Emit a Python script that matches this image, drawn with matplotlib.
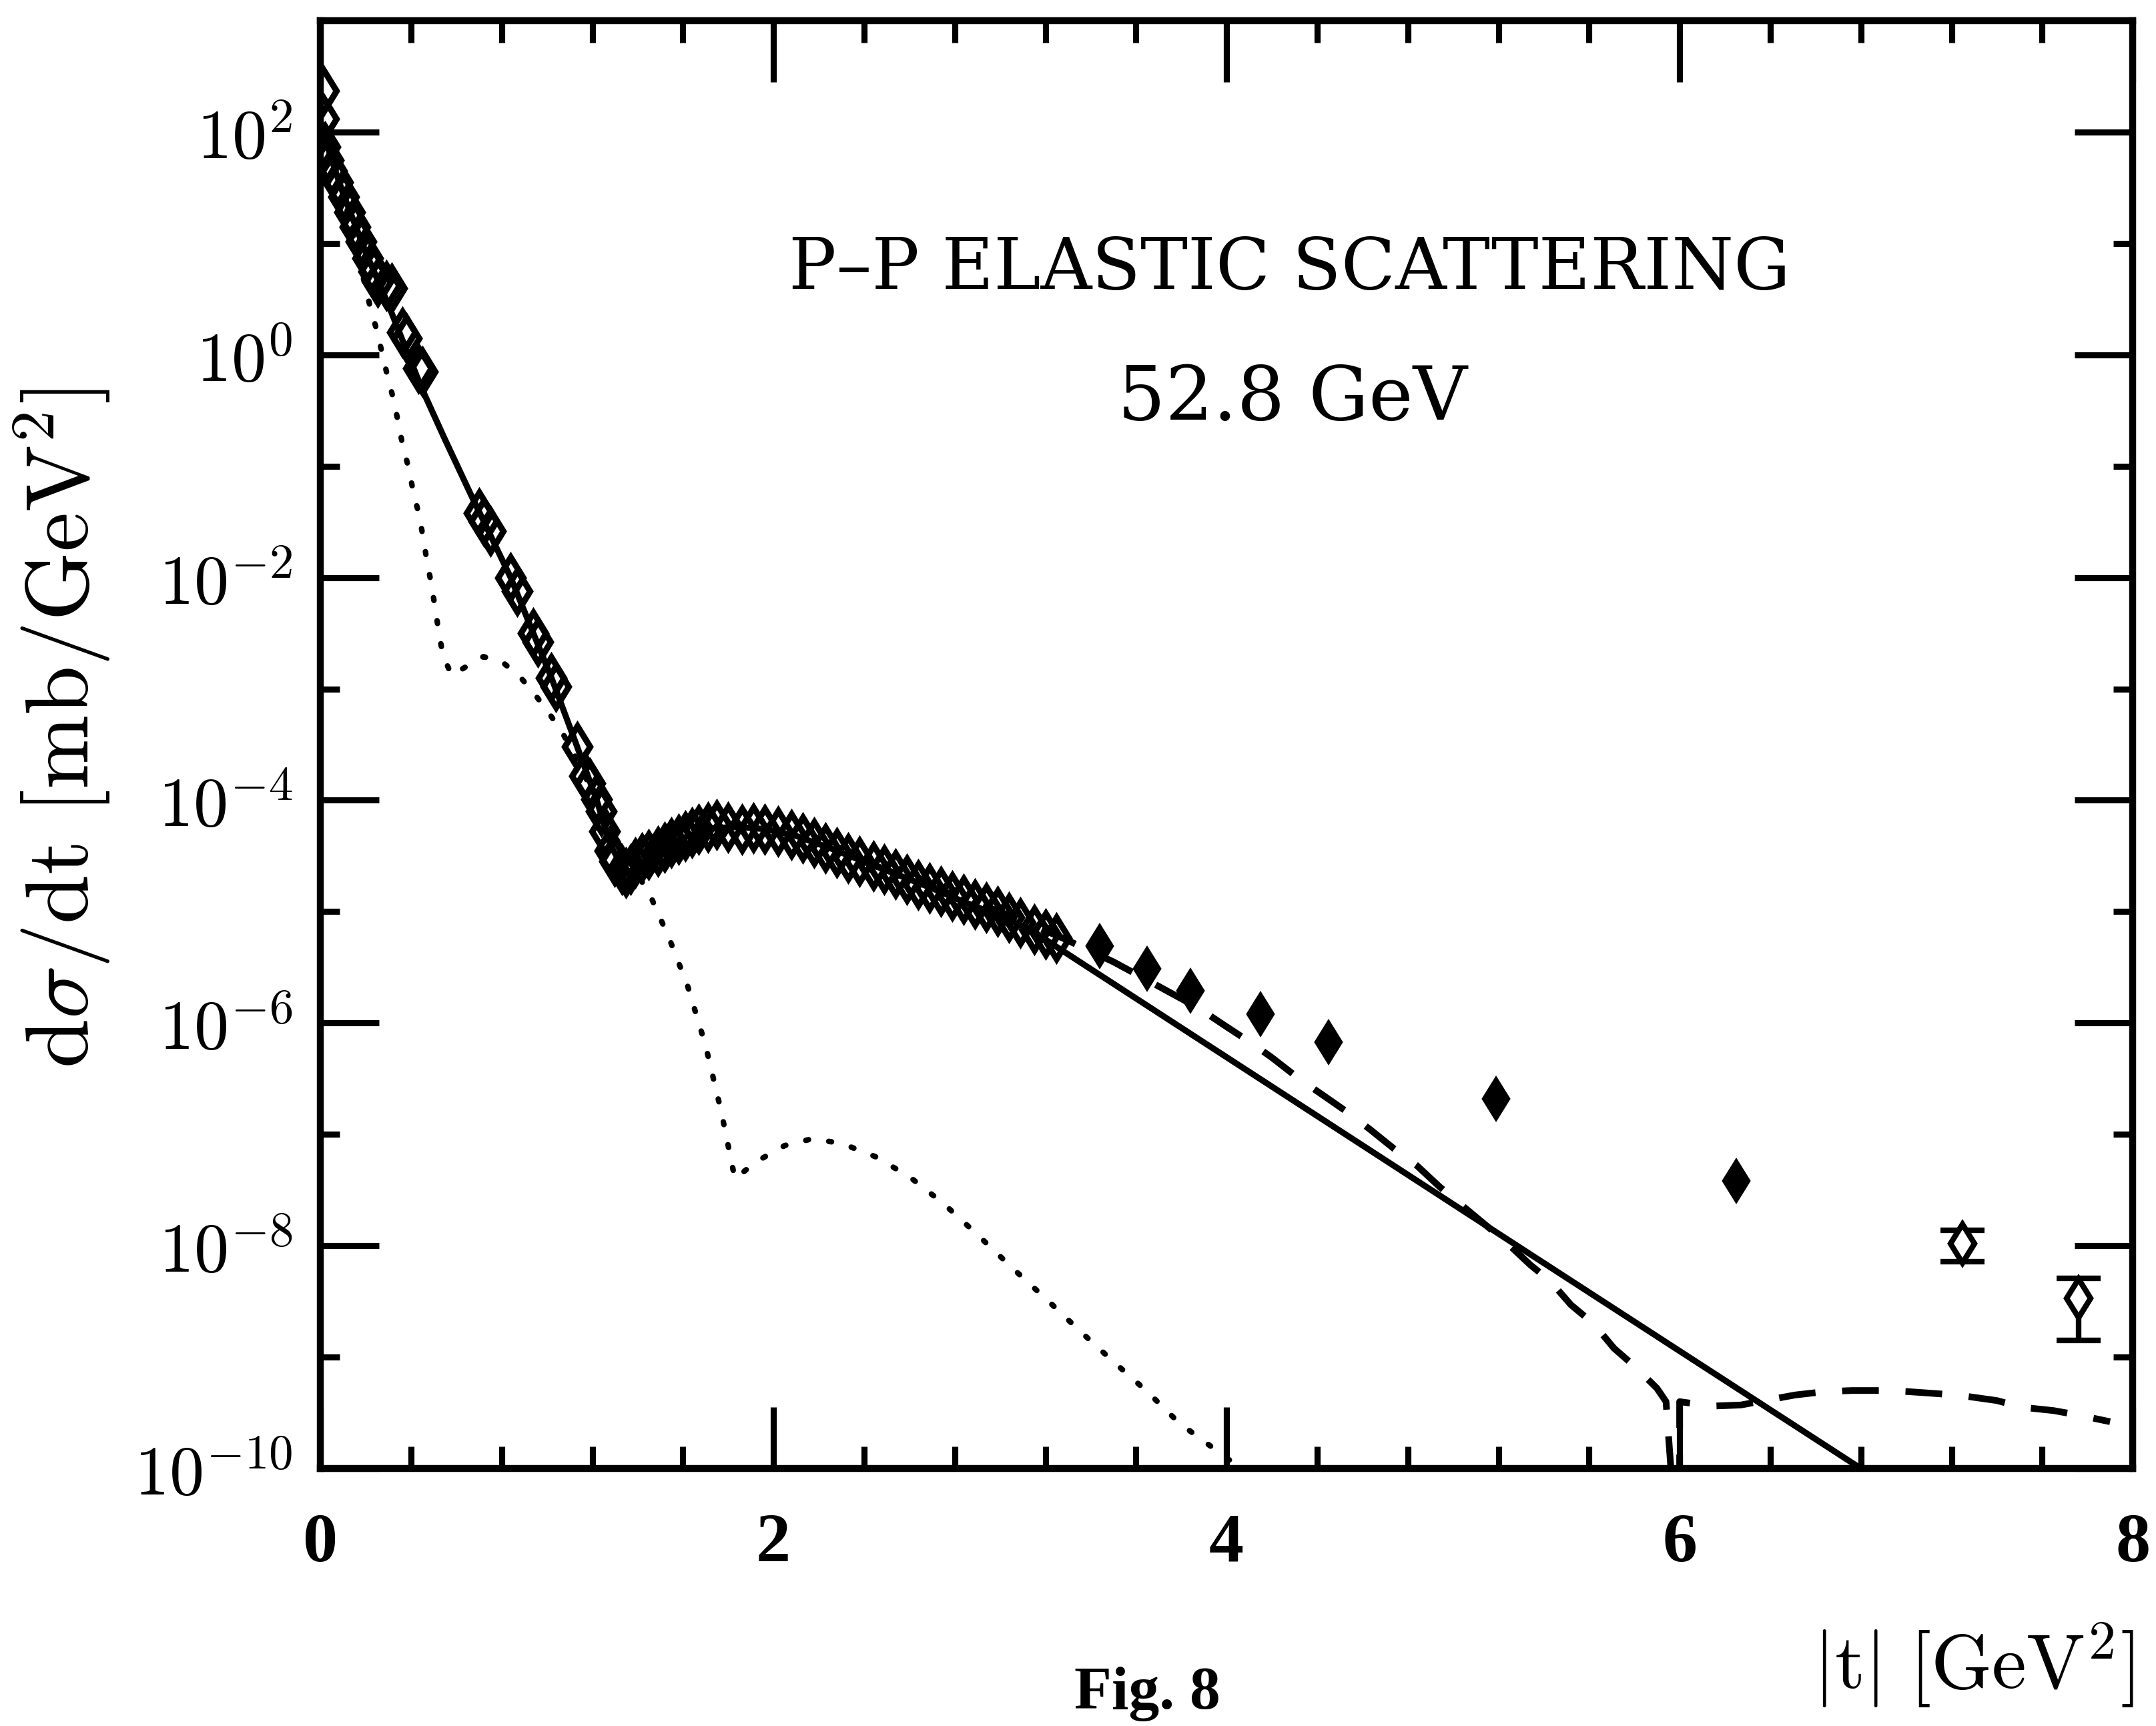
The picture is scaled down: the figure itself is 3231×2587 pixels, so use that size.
import numpy as np
import matplotlib.pyplot as plt
from matplotlib.ticker import FixedLocator, MultipleLocator, NullFormatter

plt.rcParams['mathtext.fontset'] = 'cm'
plt.rcParams['font.family'] = ['DejaVu Serif']

# measured cross sections: |t| [GeV^2] and log10(dsigma/dt [mb/GeV^2])
t_data = [0.015, 0.015, 0.02, 0.035, 0.05, 0.075, 0.103, 0.13, 0.153, 0.18, 0.209, 0.235,
          0.253, 0.29, 0.315, 0.362, 0.38, 0.434, 0.45,
          0.70, 0.72, 0.75, 0.84, 0.87, 0.94, 0.96, 1.02, 1.04, 1.134, 1.166, 1.19, 1.218,
          1.24, 1.253, 1.277, 1.30, 1.33, 1.35,
          1.37, 1.39, 1.42, 1.45, 1.49, 1.52, 1.55, 1.58, 1.61, 1.64, 1.67, 1.71, 1.75, 1.80,
          1.86, 1.91, 1.96, 2.02, 2.08, 2.13, 2.18, 2.23, 2.28, 2.33, 2.38, 2.44, 2.49, 2.54,
          2.59, 2.64, 2.69, 2.74, 2.79, 2.84, 2.89, 2.94, 2.99, 3.04, 3.09, 3.15, 3.20, 3.25]
logy_data = [2.37, 2.12, 1.87, 1.75, 1.65, 1.55, 1.42, 1.28, 1.15, 1.02, 0.87, 0.75,
             0.65, 0.62, 0.60, 0.20, 0.15, -0.12, -0.15,
             -1.42, -1.49, -1.58, -2.00, -2.12, -2.50, -2.58, -2.90, -2.98, -3.52, -3.78, -3.85, -3.99,
             -4.10, -4.28, -4.45, -4.55, -4.62, -4.65,
             -4.62, -4.56, -4.52, -4.49, -4.46, -4.42, -4.38, -4.35, -4.32, -4.29, -4.26, -4.24, -4.22, -4.24,
             -4.26, -4.25, -4.26, -4.28, -4.31, -4.34, -4.38, -4.43, -4.47, -4.52, -4.55, -4.59, -4.62, -4.66,
             -4.71, -4.76, -4.79, -4.82, -4.86, -4.89, -4.93, -4.96, -5.00, -5.05, -5.10, -5.16, -5.20, -5.24]

t_big = [3.44, 3.65, 3.84, 4.15, 4.45, 5.19, 6.25]
logy_big = [-5.31, -5.51, -5.71, -5.92, -6.17, -6.68, -7.42]

t_err = [7.25, 7.76]
logy_err = [-7.98, -8.47]
logy_err_lo = [-8.14, -8.85]
logy_err_hi = [-7.86, -8.29]

# model curves
t_solid = [0.0, 0.05, 0.10, 0.20, 0.30, 0.445, 0.55, 0.67, 0.72, 0.84, 0.94, 1.02, 1.13, 1.22,
           1.28, 1.35, 1.40, 1.50, 1.60, 1.72, 1.85, 1.97, 2.10, 2.25, 2.40, 2.55, 2.70, 2.85,
           3.00, 3.15, 3.23, 5.26, 6.80]
logy_solid = [2.1, 1.75, 1.45, 0.92, 0.45, -0.29, -0.76, -1.28, -1.49, -2.0, -2.5, -2.9, -3.5, -4.0,
              -4.4, -4.66, -4.60, -4.46, -4.34, -4.25, -4.24, -4.26, -4.32, -4.43, -4.55, -4.67, -4.79, -4.92,
              -5.04, -5.18, -5.29, -7.97, -10.0]

t_dash = [2.40, 2.70, 3.00, 3.28, 3.50, 3.70, 3.88, 3.99, 4.11, 4.20, 4.32, 4.42, 4.54, 4.63,
          4.74, 4.84, 4.94, 5.23, 5.34, 5.43, 5.52, 5.62, 5.71, 5.80, 5.90, 5.94, 5.99, 6.00, 6.00,
          6.14, 6.27, 6.51, 6.64, 6.76, 6.90, 7.01, 7.15, 7.26, 7.40, 7.51, 7.65, 7.76, 7.90]
logy_dash = [-4.55, -4.78, -5.00, -5.24, -5.45, -5.67, -5.87, -6.02, -6.18, -6.31, -6.50, -6.64, -6.81, -6.95,
             -7.13, -7.28, -7.47, -7.96, -8.17, -8.32, -8.53, -8.70, -8.92, -9.08, -9.28, -9.40, -10.8, -10.8,
             -9.40, -9.44, -9.43, -9.34, -9.31, -9.30, -9.30, -9.31, -9.33, -9.35, -9.39, -9.45, -9.48, -9.52,
             -9.58]

t_dot = [0.0, 0.05, 0.10, 0.15, 0.221, 0.249, 0.296, 0.324, 0.343, 0.362, 0.39, 0.41, 0.437, 0.455,
         0.471, 0.49, 0.507, 0.522, 0.541, 0.58, 0.643, 0.72, 0.81, 0.885, 0.947, 1.01, 1.07, 1.15,
         1.25, 1.35, 1.455, 1.496, 1.54, 1.575, 1.614, 1.70, 1.77, 1.83, 1.92, 2.05, 2.17, 2.30,
         2.45, 2.60, 2.75, 2.90, 3.06, 3.21, 3.35, 3.50, 3.65, 3.79, 3.87, 3.95, 4.03, 4.08]
logy_dot = [2.1, 1.75, 1.45, 1.03, 0.42, 0.22, -0.19, -0.41, -0.60, -0.80, -1.02, -1.23, -1.45, -1.66,
            -1.86, -2.06, -2.28, -2.48, -2.70, -2.88, -2.80, -2.71, -2.77, -2.90, -3.05, -3.22, -3.40, -3.70,
            -4.15, -4.50, -4.85, -5.04, -5.24, -5.43, -5.62, -6.20, -6.80, -7.40, -7.25, -7.10, -7.04, -7.08,
            -7.20, -7.38, -7.62, -7.90, -8.21, -8.49, -8.76, -9.04, -9.31, -9.59, -9.71, -9.83, -9.95, -10.05]

fig = plt.figure(figsize=(3231 / 300, 2587 / 300), dpi=300, facecolor='white')
ax = fig.add_axes([0.1486, 0.1492, 0.8406, 0.8388])
ax.set_yscale('log')

ax.plot(t_solid, 10 ** np.array(logy_solid), color='black', lw=2.2, zorder=3)
ax.plot(t_dash, 10 ** np.array(logy_dash), color='black', lw=2.4, dashes=(5.5, 4.0), zorder=3)
ax.plot(t_dot, 10 ** np.array(logy_dot), color='black', lw=2.0, dashes=(0.5, 3.7),
        dash_capstyle='round', zorder=3)

ax.plot(t_data, 10 ** np.array(logy_data), linestyle='None', marker='d', markersize=10.5,
        markerfacecolor='none', markeredgecolor='black', markeredgewidth=2.2, zorder=4)
ax.plot(t_big, 10 ** np.array(logy_big), linestyle='None', marker='d', markersize=10,
        markerfacecolor='black', markeredgecolor='black', markeredgewidth=1.5, zorder=4)

y_err = 10 ** np.array(logy_err)
ax.errorbar(t_err, y_err, yerr=[y_err - 10 ** np.array(logy_err_lo), 10 ** np.array(logy_err_hi) - y_err],
            fmt='d', markersize=10, markerfacecolor='white', markeredgecolor='black', markeredgewidth=2.0,
            ecolor='black', elinewidth=2.0, capsize=8, capthick=2.5, zorder=4)

ax.set_xlim(0, 8)
ax.set_ylim(1e-10, 1e3)

ax.xaxis.set_major_locator(FixedLocator([0, 2, 4, 6, 8]))
ax.xaxis.set_minor_locator(MultipleLocator(0.4))
ax.yaxis.set_major_locator(FixedLocator([10.0 ** e for e in range(-10, 3, 2)]))
ax.yaxis.set_minor_locator(FixedLocator([10.0 ** e for e in range(-9, 2, 2)]))
ax.yaxis.set_minor_formatter(NullFormatter())
ax.set_yticklabels([r'$10^{%d}$' % e for e in range(-10, 3, 2)], fontsize=25)
ax.set_xticklabels(['0', '2', '4', '6', '8'], fontsize=25, fontweight='bold', family='Liberation Serif')

ax.tick_params(which='both', direction='in', top=True, right=True, width=2.2, colors='black')
ax.tick_params(axis='x', which='major', length=22, pad=16)
ax.tick_params(axis='x', which='minor', length=8)
ax.tick_params(axis='y', which='major', length=21, pad=10)
ax.tick_params(axis='y', which='minor', length=7)
for sp in ax.spines.values():
    sp.set_linewidth(2.5)

fig.text(0.598, 0.844, 'P\u2013P ELASTIC SCATTERING', ha='center', va='center', fontsize=25.5,
         family='DejaVu Serif')
fig.text(0.5995, 0.769, '52.8 GeV', ha='center', va='center', fontsize=27, family='DejaVu Serif')

fig.text(0.0288, 0.578, r'$\mathrm{d}\sigma/\mathrm{dt}\ [\mathrm{mb/GeV}^2]$', rotation=90,
         ha='center', va='center', fontsize=32)
fig.text(0.9155, 0.035, r'$|\mathrm{t}|\ [\mathrm{GeV}^2]$', ha='center', va='center', fontsize=28)
fig.text(0.532, 0.010, 'Fig. 8', ha='center', va='baseline', fontsize=22, fontweight='bold',
         family='Liberation Serif')

fig.savefig('out.png', dpi=300, facecolor='white')
